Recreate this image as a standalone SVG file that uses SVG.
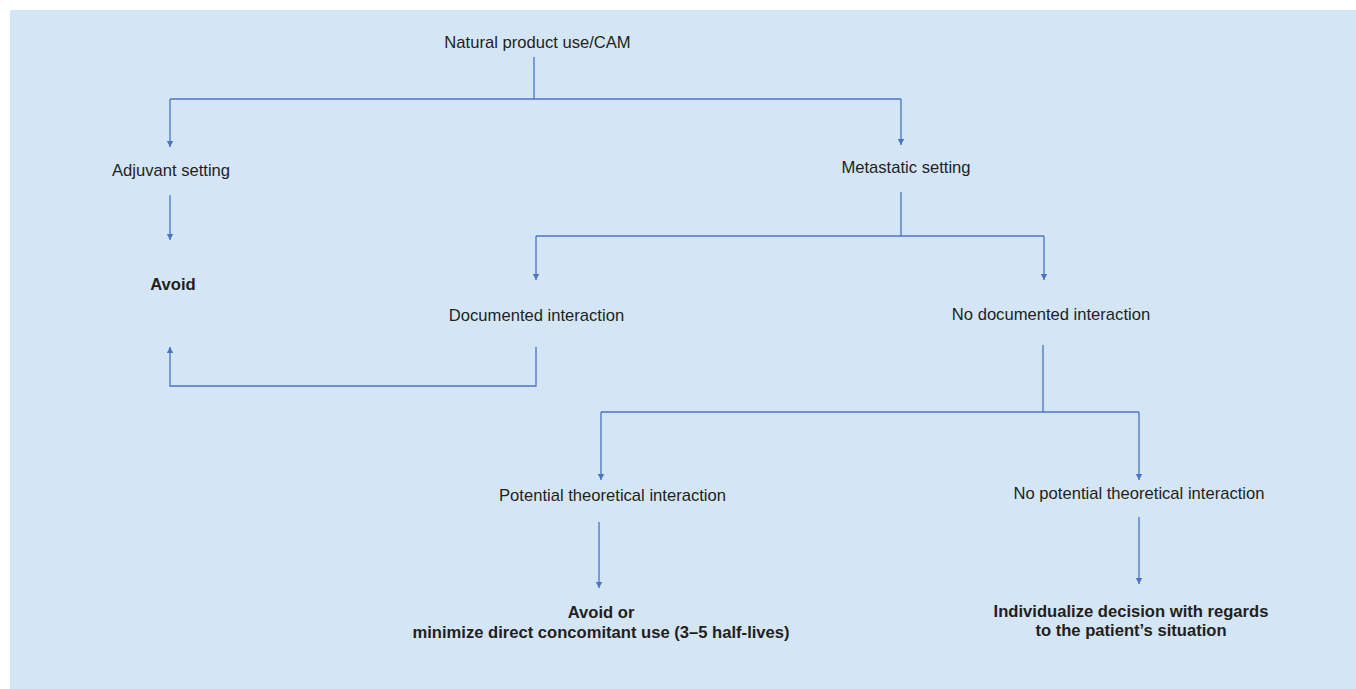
<svg xmlns="http://www.w3.org/2000/svg" width="1356" height="689" viewBox="0 0 1356 689">
<style>
.t{font-family:"Liberation Sans",Arial,Helvetica,sans-serif;font-size:16.6px;fill:#231f20}
.b{font-weight:bold}
.c{fill:none;stroke:#4a74c4;stroke-width:1.3}
</style>
<defs>
<marker id="ah" viewBox="0 0 6 10" refX="6" refY="5" markerWidth="6" markerHeight="10" markerUnits="userSpaceOnUse" orient="auto">
<path d="M0,1.8 L6,5 L0,8.2 Z" fill="#4a74c4"/>
</marker>
</defs>
<rect x="10" y="10" width="1346" height="679" fill="#d4e6f5"/>
<g id="connectors">
<path class="c" d="M534,57 V99"/>
<path class="c" d="M170,99 H901"/>
<path class="c" d="M170,99 V147" marker-end="url(#ah)"/>
<path class="c" d="M901,99 V145" marker-end="url(#ah)"/>
<path class="c" d="M170,195 V240" marker-end="url(#ah)"/>
<path class="c" d="M901,192 V236"/>
<path class="c" d="M536,236 H1044"/>
<path class="c" d="M536,236 V280" marker-end="url(#ah)"/>
<path class="c" d="M1044,236 V280" marker-end="url(#ah)"/>
<path class="c" d="M536,347 V386 H170 V347" marker-end="url(#ah)"/>
<path class="c" d="M1043,345 V412"/>
<path class="c" d="M601,412 H1139"/>
<path class="c" d="M601,412 V480" marker-end="url(#ah)"/>
<path class="c" d="M1139,412 V480" marker-end="url(#ah)"/>
<path class="c" d="M599,522 V588" marker-end="url(#ah)"/>
<path class="c" d="M1139,517 V584" marker-end="url(#ah)"/>
</g>
<g id="n-natural"><text class="t" x="537.5" y="48" text-anchor="middle">Natural product use/CAM</text></g>
<g id="n-adjuvant"><text class="t" x="171" y="176" text-anchor="middle">Adjuvant setting</text></g>
<g id="n-metastatic"><text class="t" x="906" y="173" text-anchor="middle">Metastatic setting</text></g>
<g id="n-avoid"><text class="t b" x="173" y="290" text-anchor="middle">Avoid</text></g>
<g id="n-documented"><text class="t" x="536.5" y="321" text-anchor="middle">Documented interaction</text></g>
<g id="n-nodocumented"><text class="t" x="1051" y="320" text-anchor="middle">No documented interaction</text></g>
<g id="n-potential"><text class="t" x="612.5" y="501" text-anchor="middle">Potential theoretical interaction</text></g>
<g id="n-nopotential"><text class="t" x="1139" y="499" text-anchor="middle">No potential theoretical interaction</text></g>
<g id="n-avoidor"><text class="t b" x="601" y="618" text-anchor="middle">Avoid or</text><text class="t b" x="601" y="638" text-anchor="middle">minimize direct concomitant use (3–5 half-lives)</text></g>
<g id="n-individualize"><text class="t b" x="1131" y="617" text-anchor="middle">Individualize decision with regards</text><text class="t b" x="1131" y="636" text-anchor="middle">to the patient’s situation</text></g>
</svg>
